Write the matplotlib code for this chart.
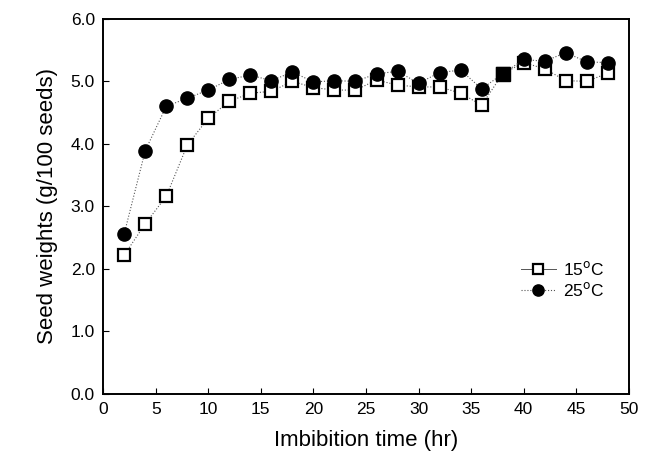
import matplotlib.pyplot as plt

plt.rcParams['font.family'] = ['Liberation Sans', 'DejaVu Sans']

hours = [2, 4, 6, 8, 10, 12, 14, 16, 18, 20, 22, 24,
         26, 28, 30, 32, 34, 36, 38, 40, 42, 44, 46, 48]
w15 = [2.22, 2.72, 3.16, 3.98, 4.41, 4.68, 4.81, 4.84, 5.00, 4.90, 4.86, 4.86,
       5.02, 4.94, 4.91, 4.91, 4.81, 4.62, 5.12, 5.30, 5.20, 5.01, 5.00, 5.13]
w25 = [2.56, 3.89, 4.60, 4.73, 4.86, 5.03, 5.10, 5.01, 5.15, 4.99, 5.01, 5.00,
       5.12, 5.16, 4.97, 5.14, 5.18, 4.88, 5.12, 5.35, 5.32, 5.46, 5.31, 5.30]
labels = ["15$^{\\rm o}$C", "25$^{\\rm o}$C"]

fig = plt.figure(figsize=(6.53, 4.59), dpi=100)
ax = fig.add_axes([0.158, 0.142, 0.805, 0.817])

ax.plot(hours, w15, ls=':', lw=0.8, color='#555555', marker='s', ms=9,
        mfc='white', mec='black', mew=1.6, label=labels[0], zorder=3)
ax.plot(hours, w25, ls=':', lw=0.8, color='#555555', marker='o', ms=9.5,
        mfc='black', mec='black', label=labels[1], zorder=4)
# the 38 h square appears filled in the original
i38 = hours.index(38)
ax.plot(hours[i38], w15[i38], ls='none', marker='s', ms=9.5, mfc='black',
        mec='black', zorder=5)

ax.set_xlim(0, 50)
ax.set_ylim(0, 6)
ax.set_xticks(range(0, 51, 5))
ax.set_yticks([0, 1, 2, 3, 4, 5, 6])
ax.set_yticklabels([f"{v:.1f}" for v in range(7)])
ax.tick_params(direction='in', labelsize=12.5, length=4, width=0.8, pad=6)
for s in ax.spines.values():
    s.set_linewidth(1.4)

ax.set_xlabel("Imbibition time (hr)", fontsize=16, labelpad=9)
ax.set_ylabel("Seed weights (g/100 seeds)", fontsize=16, labelpad=9)

h, l = ax.get_legend_handles_labels()
leg = ax.legend(h, l, frameon=False, fontsize=12.5,
                loc='center left', bbox_to_anchor=(0.765, 0.305),
                handlelength=2.0, handletextpad=0.4, labelspacing=0.15,
                markerscale=0.85)
leg_lines = leg.get_lines()
leg_lines[0].set_linestyle('-')
leg_lines[0].set_linewidth(0.7)
leg_lines[1].set_linestyle(':')
leg_lines[1].set_linewidth(0.8)

plt.savefig("out.png", dpi=100)
